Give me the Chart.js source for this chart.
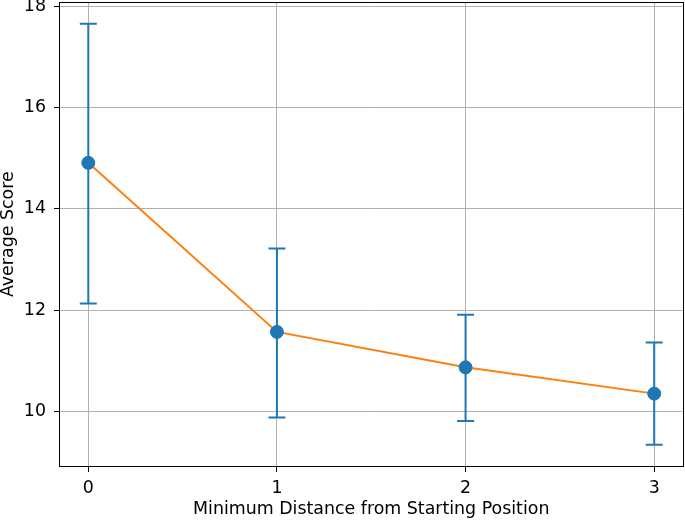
<!DOCTYPE html>
<html>
<head>
<meta charset="utf-8">
<script src="https://cdn.jsdelivr.net/npm/chart.js@4/dist/chart.umd.min.js"></script>
<style>
  html, body { margin: 0; padding: 0; background: #fff; overflow: hidden; }
  /* tick labels reserve room above and to the right; shift the canvas to match the reference frame */
  #wrap { position: absolute; left: 0; top: -16px; width: 690px; height: 536px; }
</style>
</head>
<body>
<div id="wrap"><canvas id="chart"></canvas></div>
<script>
// Values
const distances = [0, 1, 2, 3];
const meanScores = [14.91, 11.57, 10.87, 10.35];
const errLow = [12.13, 9.88, 9.81, 9.34];
const errHigh = [17.66, 13.22, 11.91, 11.36];
const xTicks = [0, 1, 2, 3];
const yTicks = [10, 12, 14, 16, 18];

const BLUE = '#1f77b4';
const ORANGE = '#ff7f0e';
const FONT = "'DejaVu Sans', sans-serif";

// Chart.js has no error bars, so draw them with a small plugin using the scales
const errorBars = {
    id: 'errorBars',
    beforeDatasetsDraw(chart) {
        const ctx = chart.ctx;
        const xs = chart.scales.x, ys = chart.scales.y;
        ctx.save();
        ctx.strokeStyle = BLUE;
        ctx.lineWidth = 2;
        for (let i = 0; i < distances.length; i++) {
            const px = xs.getPixelForValue(distances[i]);
            const top = ys.getPixelForValue(errHigh[i]);
            const bot = ys.getPixelForValue(errLow[i]);
            ctx.beginPath();
            ctx.moveTo(px, top); ctx.lineTo(px, bot);
            ctx.moveTo(px - 8.5, top); ctx.lineTo(px + 8.5, top);
            ctx.moveTo(px - 8.5, bot); ctx.lineTo(px + 8.5, bot);
            ctx.stroke();
        }
        ctx.restore();
    }
};

// matplotlib style box around the plot area
const frame = {
    id: 'frame',
    afterDraw(chart) {
        const a = chart.chartArea;
        const ctx = chart.ctx;
        ctx.save();
        ctx.strokeStyle = '#000';
        ctx.lineWidth = 1;
        ctx.strokeRect(Math.round(a.left) - 0.5, Math.round(a.top) + 0.5,
            Math.round(a.right - a.left) + 1, Math.round(a.bottom - a.top));
        ctx.restore();
    }
};

const pts = distances.map((d, i) => ({ x: d, y: meanScores[i] }));

new Chart(document.getElementById('chart'), {
    type: 'scatter',
    data: {
        datasets: [
            {
                data: pts,
                backgroundColor: BLUE,
                borderColor: BLUE,
                pointRadius: 6.5,
                pointHoverRadius: 6.5,
                showLine: false
            },
            {
                data: pts,
                borderColor: ORANGE,
                borderWidth: 2,
                pointRadius: 0,
                showLine: true,
                fill: false
            }
        ]
    },
    options: {
        responsive: true,
        maintainAspectRatio: false,
        animation: false,
        layout: { padding: 0 },
        plugins: {
            legend: { display: false },
            tooltip: { enabled: false }
        },
        scales: {
            x: {
                type: 'linear',
                min: -0.15,
                max: 3.15,
                afterBuildTicks: (s) => { s.ticks = xTicks.map(v => ({ value: v })); },
                afterFit: (s) => { s.height = 54; },
                ticks: {
                    color: '#000',
                    font: { family: FONT, size: 17.4 },
                    padding: 6,
                    maxRotation: 0,
                    callback: (v) => String(v)
                },
                grid: {
                    color: '#b0b0b0',
                    lineWidth: 1,
                    tickColor: '#000',
                    tickLength: 6
                },
                border: { display: false },
                title: {
                    display: true,
                    text: 'Minimum Distance from Starting Position',
                    color: '#000',
                    font: { family: FONT, size: 17.4 },
                    padding: { top: 4, bottom: 0 }
                }
            },
            y: {
                type: 'linear',
                min: 8.92,
                max: 18.08,
                afterBuildTicks: (s) => { s.ticks = yTicks.map(v => ({ value: v })); },
                afterFit: (s) => { s.width = 60; },
                ticks: {
                    color: '#000',
                    font: { family: FONT, size: 17.4 },
                    padding: 8,
                    callback: (v) => String(v)
                },
                grid: {
                    color: '#b0b0b0',
                    lineWidth: 1,
                    tickColor: '#000',
                    tickLength: 6
                },
                border: { display: false },
                title: {
                    display: true,
                    text: 'Average Score',
                    color: '#000',
                    font: { family: FONT, size: 17.4, lineHeight: 1 },
                    padding: { top: 0, bottom: 0 }
                }
            }
        }
    },
    plugins: [errorBars, frame]
});
</script>
</body>
</html>
